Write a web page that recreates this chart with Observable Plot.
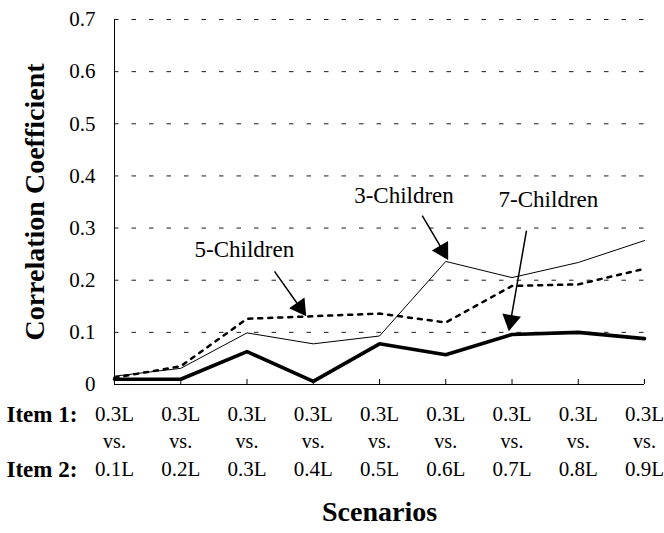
<!DOCTYPE html>
<html>
<head>
<meta charset="utf-8">
<script src="https://cdn.jsdelivr.net/npm/d3@7"></script>
<script src="https://cdn.jsdelivr.net/npm/@observablehq/plot@0.6"></script>
<style>
  html, body { margin: 0; padding: 0; background: #fff; }
</style>
</head>
<body>
<div id="chart"></div>
<script>
// ---- data ----
const item1Labels = ["0.3L", "0.3L", "0.3L", "0.3L", "0.3L", "0.3L", "0.3L", "0.3L", "0.3L"];
const item2Labels = ["0.1L", "0.2L", "0.3L", "0.4L", "0.5L", "0.6L", "0.7L", "0.8L", "0.9L"];
const children3 = [0.016, 0.031, 0.099, 0.078, 0.093, 0.236, 0.205, 0.234, 0.276];
const children5 = [0.013, 0.035, 0.126, 0.131, 0.136, 0.119, 0.189, 0.192, 0.222];
const children7 = [0.010, 0.010, 0.063, 0.006, 0.078, 0.057, 0.096, 0.100, 0.088];
const yTicks = [0, 0.1, 0.2, 0.3, 0.4, 0.5, 0.6, 0.7];
const gridValues = [0.1, 0.2, 0.3, 0.4, 0.5, 0.6, 0.7];
// annotation labels (x in scenario index units, y in coefficient units; y = text baseline)
const labelNames = ["3-Children", "5-Children", "7-Children"];
const labelX = [4.37, 1.96, 6.55];
const labelY = [0.348, 0.245, 0.341];
// arrows: start and tip
const arrowX1 = [4.645, 2.415, 6.219];
const arrowY1 = [0.324, 0.217, 0.295];
const arrowX2 = [5.037, 2.894, 5.952];
const arrowY2 = [0.239, 0.131, 0.102];

// ---- layout ----
const W = 664, H = 533;
const mL = 114, mR = 20, mT = 19, mB = 149;
const font = "'Liberation Serif', 'Times New Roman', serif";
const kx = (W - mL - mR) / 8;        // px per index unit
const ky = (H - mT - mB) / 0.7;      // px per coefficient unit

const idx = d3.range(item2Labels.length);
const toRows = (arr) => arr.map((v, i) => ({i, v}));

// arrow geometry (triangle heads)
const headR = 7;
const tipOff = 2 * Math.sqrt((Math.PI * headR * headR) / (3 * Math.sqrt(3)));
const arrows = labelNames.map((name, k) => {
  const dxs = (arrowX2[k] - arrowX1[k]) * kx;
  const dys = -(arrowY2[k] - arrowY1[k]) * ky;
  const len = Math.hypot(dxs, dys);
  const ux = dxs / len, uy = dys / len;
  const cx = arrowX2[k] - (ux * tipOff) / kx;
  const cy = arrowY2[k] + (uy * tipOff) / ky;
  const rot = Math.atan2(dxs, -dys) * 180 / Math.PI;
  return {x1: arrowX1[k], y1: arrowY1[k], cx, cy, rot};
});
const labels = labelNames.map((t, k) => ({t, x: labelX[k], y: labelY[k]}));

const plot = Plot.plot({
  width: W,
  height: H,
  marginLeft: mL,
  marginRight: mR,
  marginTop: mT,
  marginBottom: mB,
  style: {fontFamily: font, background: "#fff", color: "#000", overflow: "visible"},
  x: {type: "linear", domain: [0, 8], axis: null},
  y: {domain: [0, 0.7], axis: null},
  marks: [
    // dashed gridlines
    Plot.ruleY(gridValues, {y: d => d, stroke: "#000", strokeWidth: 0.9, strokeDasharray: "4.5,13"}),
    // y-axis line
    Plot.ruleX([0], {x: d => d, y1: 0, y2: 0.7, stroke: "#000", strokeWidth: 1}),
    // x-axis line
    Plot.ruleY([0], {y: d => d, stroke: "#000", strokeWidth: 1}),
    // x ticks (inward)
    Plot.ruleX(idx, {x: d => d, y1: 0, y2: 0, insetTop: -5, stroke: "#000", strokeWidth: 1}),
    // y tick labels
    Plot.axisY({ticks: yTicks, tickSize: 0, tickPadding: 19, fontSize: 21, label: null,
      tickFormat: d => d === 0 ? "0" : d.toFixed(1)}),
    // data lines
    Plot.line(toRows(children3), {x: "i", y: "v", stroke: "#000", strokeWidth: 1, strokeLinejoin: "miter"}),
    Plot.line(toRows(children5), {x: "i", y: "v", stroke: "#000", strokeWidth: 2.5, strokeDasharray: "4,6", strokeLinejoin: "miter"}),
    Plot.line(toRows(children7), {x: "i", y: "v", stroke: "#000", strokeWidth: 3.6, strokeLinejoin: "miter"}),
    // annotation arrows
    Plot.link(arrows, {x1: "x1", y1: "y1", x2: "cx", y2: "cy", stroke: "#000", strokeWidth: 1.5}),
    Plot.dot(arrows, {x: "cx", y: "cy", symbol: "triangle", r: headR, fill: "#000", stroke: "none", rotate: "rot"}),
    Plot.text(labels, {x: "x", y: "y", text: "t", fontSize: 23, lineAnchor: "bottom", fill: "#000"}),
    // category labels (three rows)
    Plot.text(idx, {x: d => d, frameAnchor: "bottom", dy: 36, lineAnchor: "bottom", text: d => item1Labels[d], fontSize: 21}),
    Plot.text(idx, {x: d => d, frameAnchor: "bottom", dy: 63, lineAnchor: "bottom", text: () => "vs.", fontSize: 20}),
    Plot.text(idx, {x: d => d, frameAnchor: "bottom", dy: 91, lineAnchor: "bottom", text: d => item2Labels[d], fontSize: 21}),
    Plot.text(["Item 1:"], {x: -0.56, frameAnchor: "bottom", dy: 37, lineAnchor: "bottom", textAnchor: "end", text: d => d, fontSize: 23, fontWeight: "bold"}),
    Plot.text(["Item 2:"], {x: -0.56, frameAnchor: "bottom", dy: 92, lineAnchor: "bottom", textAnchor: "end", text: d => d, fontSize: 23, fontWeight: "bold"}),
    // axis titles
    Plot.text(["Scenarios"], {frameAnchor: "bottom", dy: 136, lineAnchor: "bottom", text: d => d, fontSize: 28, fontWeight: "bold"}),
    Plot.text(["Correlation Coefficient"], {frameAnchor: "left", textAnchor: "middle", dx: -79, rotate: -90, text: d => d, fontSize: 28, fontWeight: "bold"})
  ]
});
document.getElementById("chart").appendChild(plot);
</script>
</body>
</html>
